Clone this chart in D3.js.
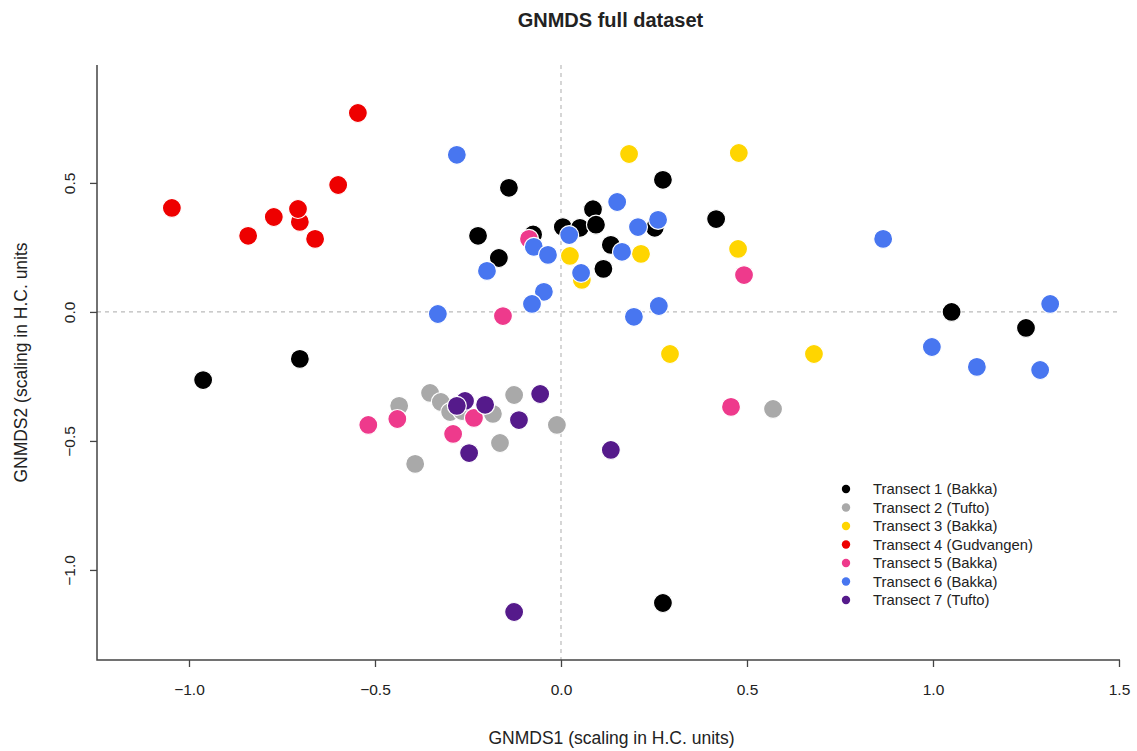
<!DOCTYPE html>
<html>
<head>
<meta charset="utf-8">
<script src="https://cdnjs.cloudflare.com/ajax/libs/d3/7.8.5/d3.min.js"></script>
<style>
  body { margin: 0; background: #fff; }
  text { font-family: "Liberation Sans", Arial, sans-serif; fill: #222; }
</style>
</head>
<body>
<div id="chart"></div>
<script>
// transect names + colours (legend order = draw order)
var transects = ["Transect 1 (Bakka)", "Transect 2 (Tufto)", "Transect 3 (Bakka)",
  "Transect 4 (Gudvangen)", "Transect 5 (Bakka)", "Transect 6 (Bakka)", "Transect 7 (Tufto)"];
var colours = ["#000000", "#A9A9A9", "#FFD500", "#EE0000", "#EE3A8C", "#4876F0", "#551A8B"];

// GNMDS scores, [axis1, axis2]
var t1 = [[0.274,0.512],[-0.140,0.481],[-0.223,0.295],[-0.167,0.209],[-0.075,0.300],
  [0.005,0.329],[0.051,0.326],[0.086,0.398],[0.094,0.338],[0.134,0.260],[0.114,0.167],
  [0.252,0.326],[0.417,0.360],[1.050,0.000],[1.250,-0.062],[-0.702,-0.182],
  [-0.962,-0.264],[0.274,-1.128]];
var t2 = [[-0.435,-0.364],[-0.352,-0.314],[-0.323,-0.349],[-0.298,-0.388],[-0.266,-0.384],
  [-0.183,-0.395],[-0.126,-0.322],[-0.164,-0.508],[-0.011,-0.438],[-0.392,-0.589],
  [0.570,-0.376]];
var t3 = [[0.183,0.612],[0.478,0.616],[0.476,0.244],[0.215,0.225],[0.024,0.217],
  [0.056,0.124],[0.293,-0.163],[0.680,-0.163]];
var t4 = [[-1.046,0.403],[-0.841,0.295],[-0.772,0.368],[-0.702,0.349],[-0.707,0.399],
  [-0.661,0.283],[-0.599,0.492],[-0.546,0.771]];
var t5 = [[-0.086,0.283],[-0.156,-0.016],[0.492,0.143],[0.457,-0.368],[-0.518,-0.438],
  [-0.440,-0.415],[-0.234,-0.411],[-0.290,-0.473]];
var t6 = [[-0.280,0.609],[0.151,0.426],[0.207,0.329],[0.261,0.357],[0.022,0.298],
  [-0.073,0.252],[-0.035,0.221],[0.164,0.233],[0.054,0.151],[-0.199,0.159],
  [-0.046,0.078],[-0.078,0.031],[0.196,-0.019],[0.263,0.023],[-0.331,-0.008],
  [0.866,0.283],[1.315,0.031],[0.997,-0.136],[1.118,-0.213],[1.288,-0.225]];
var t7 = [[-0.258,-0.345],[-0.280,-0.364],[-0.204,-0.360],[-0.056,-0.318],[-0.113,-0.419],
  [-0.247,-0.547],[0.134,-0.535],[-0.126,-1.163]];
var groups = [t1, t2, t3, t4, t5, t6, t7];

var xTicks = [-1.0, -0.5, 0.0, 0.5, 1.0, 1.5];
var yTicks = [-1.0, -0.5, 0.0, 0.5];

var W = 1137, H = 751;
var pLeft = 97, pRight = 1120, pTop = 65, pBottom = 660;

var svg = d3.select("#chart").append("svg")
  .attr("width", W).attr("height", H);

var x = d3.scaleLinear().domain([-1.2473, 1.5027]).range([pLeft, pRight]);
var y = d3.scaleLinear().domain([-1.349, 0.957]).range([pBottom, pTop]);

var fmt = function(d) { return d3.format(".1f")(d).replace("-", "\u2212"); };

// dashed zero lines
svg.append("line")
  .attr("x1", x(0)).attr("x2", x(0)).attr("y1", pTop).attr("y2", pBottom)
  .attr("stroke", "#bbb").attr("stroke-width", 1.2).attr("stroke-dasharray", "4,4");
svg.append("line")
  .attr("x1", pLeft).attr("x2", pRight).attr("y1", y(0)).attr("y2", y(0))
  .attr("stroke", "#bbb").attr("stroke-width", 1.2).attr("stroke-dasharray", "4,4");

// axes (L shaped box)
var xAxis = svg.append("g").attr("transform", "translate(0," + pBottom + ")")
  .call(d3.axisBottom(x).tickValues(xTicks).tickFormat(fmt).tickSize(7).tickPadding(17));
var yAxis = svg.append("g").attr("transform", "translate(" + pLeft + ",0)")
  .call(d3.axisLeft(y).tickValues(yTicks).tickFormat(fmt).tickSize(7));

[xAxis, yAxis].forEach(function(a) {
  a.select(".domain").remove();
  a.selectAll("line").attr("stroke", "#444").attr("stroke-width", 1.3);
  a.selectAll("text").style("font-size", "15.5px")
    .style("font-family", "Liberation Sans, Arial, sans-serif").attr("fill", "#222");
});
yAxis.selectAll("text")
  .attr("x", null).attr("dy", "0.35em")
  .attr("text-anchor", "middle")
  .attr("transform", "translate(-27,0) rotate(-90)");

svg.append("path")
  .attr("d", "M" + pLeft + "," + pTop + "V" + pBottom + "H" + pRight)
  .attr("fill", "none").attr("stroke", "#444").attr("stroke-width", 1.5);

// points, one group per transect
groups.forEach(function(g, i) {
  svg.append("g").selectAll("circle")
    .data(g)
    .enter()
    .append("circle")
    .attr("cx", function(d) { return x(d[0]); })
    .attr("cy", function(d) { return y(d[1]); })
    .attr("r", 9.5)
    .attr("fill", colours[i])
    .attr("stroke", "#fff")
    .attr("stroke-width", 1.2);
});

// legend
var legend = svg.append("g").attr("transform", "translate(846,489)");
transects.forEach(function(name, i) {
  legend.append("circle")
    .attr("cx", 0).attr("cy", i * 18.5).attr("r", 4.2)
    .attr("fill", colours[i]);
  legend.append("text")
    .attr("x", 27).attr("y", i * 18.5).attr("dy", "0.35em")
    .style("font-size", "14.8px")
    .text(name);
});

// titles
svg.append("text")
  .attr("x", (pLeft + pRight) / 2 + 2).attr("y", 27)
  .attr("text-anchor", "middle")
  .style("font-size", "20px").style("font-weight", "bold")
  .text("GNMDS full dataset");
svg.append("text")
  .attr("x", (pLeft + pRight) / 2 + 3).attr("y", 744)
  .attr("text-anchor", "middle")
  .style("font-size", "17.5px")
  .text("GNMDS1 (scaling in H.C. units)");
svg.append("text")
  .attr("transform", "translate(27," + ((pTop + pBottom) / 2) + ") rotate(-90)")
  .attr("text-anchor", "middle")
  .style("font-size", "17.5px")
  .text("GNMDS2 (scaling in H.C. units");
</script>
</body>
</html>
